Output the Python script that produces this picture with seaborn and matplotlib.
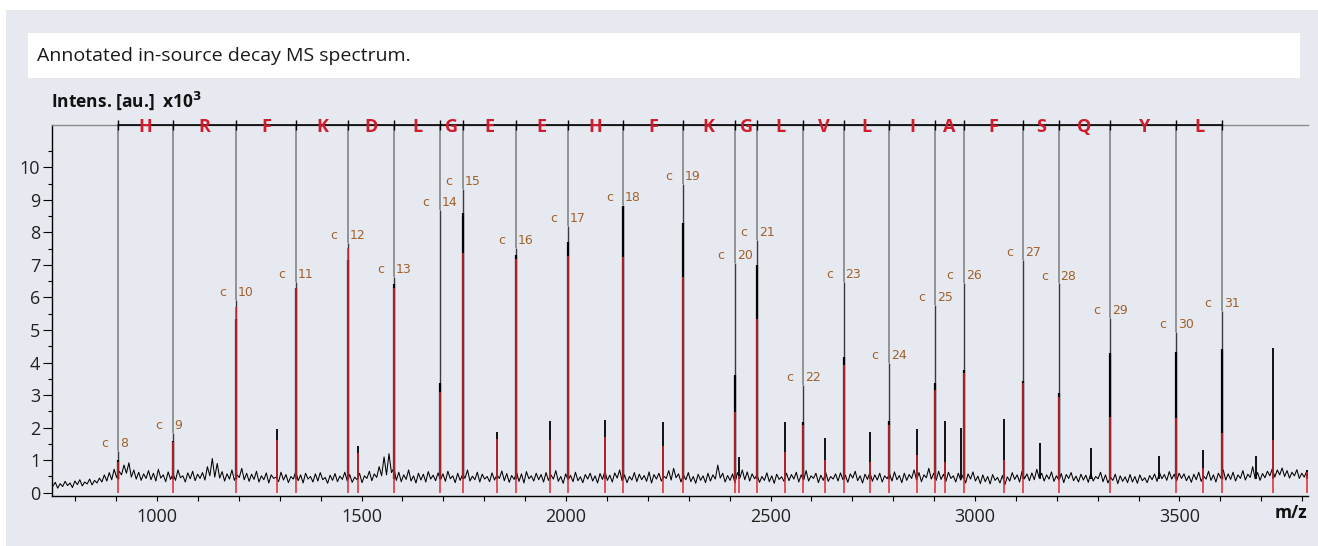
import numpy as np
import pandas as pd
import matplotlib.pyplot as plt
import seaborn as sns
from matplotlib.patches import Rectangle

sns.set_theme(style="white")
plt.rcParams['font.family'] = ['Open Sans', 'DejaVu Sans']

# baseline noise of the spectrum, one value every 6 m/z from 745
noise_start = 745
noise_step = 6
noise = [
    0.20, 0.32, 0.14, 0.28, 0.19, 0.35, 0.22, 0.30, 0.16, 0.36, 0.25, 0.40, 0.21, 0.33, 0.27, 0.42, 0.24, 0.38, 0.30, 0.45,
    0.33, 0.55, 0.36, 0.62, 0.40, 0.72, 0.47, 0.66, 0.55, 0.85, 0.60, 0.92, 0.48, 0.70, 0.42, 0.63, 0.38, 0.58, 0.44, 0.68,
    0.40, 0.60, 0.36, 0.72, 0.45, 0.55, 0.34, 0.64, 0.41, 0.58, 0.38, 0.70, 0.46, 0.52, 0.33, 0.61, 0.43, 0.66, 0.37, 0.57,
    0.44, 0.62, 0.39, 0.80, 0.52, 1.05, 0.48, 0.90, 0.45, 0.65, 0.36, 0.58, 0.42, 0.70, 0.38, 0.55, 0.47, 0.75, 0.40, 0.60,
    0.35, 0.57, 0.41, 0.66, 0.33, 0.52, 0.40, 0.61, 0.30, 0.55, 0.44, 0.48, 0.34, 0.63, 0.39, 0.56, 0.31, 0.50, 0.42, 0.64,
    0.37, 0.55, 0.30, 0.60, 0.42, 0.50, 0.33, 0.58, 0.36, 0.62, 0.40, 0.47, 0.29, 0.54, 0.38, 0.59, 0.34, 0.51, 0.41, 0.63,
    0.36, 0.56, 0.32, 0.48, 0.40, 0.60, 0.31, 0.52, 0.44, 0.66, 0.37, 0.58, 0.47, 0.80, 0.52, 1.10, 0.55, 1.20, 0.62, 0.75,
    0.38, 0.63, 0.34, 0.55, 0.41, 0.70, 0.36, 0.52, 0.30, 0.60, 0.39, 0.57, 0.33, 0.65, 0.42, 0.54, 0.37, 0.61, 0.40, 0.58,
    0.35, 0.66, 0.43, 0.52, 0.31, 0.60, 0.38, 0.56, 0.45, 0.70, 0.36, 0.51, 0.40, 0.63, 0.33, 0.57, 0.42, 0.50, 0.34, 0.61,
    0.39, 0.55, 0.44, 0.67, 0.37, 0.59, 0.32, 0.53, 0.41, 0.62, 0.35, 0.58, 0.30, 0.65, 0.43, 0.52, 0.36, 0.60, 0.40, 0.56,
    0.33, 0.62, 0.38, 0.55, 0.42, 0.68, 0.35, 0.50, 0.29, 0.58, 0.40, 0.53, 0.34, 0.63, 0.37, 0.49, 0.31, 0.56, 0.42, 0.60,
    0.36, 0.52, 0.30, 0.59, 0.41, 0.66, 0.38, 0.54, 0.33, 0.61, 0.45, 0.70, 0.37, 0.55, 0.31, 0.50, 0.39, 0.62, 0.34, 0.57,
    0.40, 0.53, 0.35, 0.64, 0.30, 0.56, 0.42, 0.60, 0.36, 0.51, 0.44, 0.68, 0.39, 0.75, 0.46, 0.58, 0.33, 0.55, 0.40, 0.62,
    0.34, 0.50, 0.29, 0.57, 0.38, 0.52, 0.31, 0.60, 0.36, 0.55, 0.42, 0.85, 0.45, 0.60, 0.33, 0.53, 0.38, 0.58, 0.30, 0.62,
    0.45, 0.70, 0.40, 0.64, 0.36, 0.58, 0.43, 0.55, 0.32, 0.50, 0.38, 0.61, 0.34, 0.52, 0.29, 0.57, 0.41, 0.49, 0.35, 0.60,
    0.37, 0.56, 0.42, 0.63, 0.33, 0.55, 0.39, 0.68, 0.36, 0.52, 0.44, 0.60, 0.31, 0.54, 0.38, 0.62, 0.35, 0.50, 0.42, 0.58,
    0.36, 0.61, 0.40, 0.54, 0.32, 0.58, 0.45, 0.66, 0.37, 0.52, 0.30, 0.57, 0.41, 0.63, 0.35, 0.55, 0.39, 0.60, 0.33, 0.52,
    0.43, 0.58, 0.36, 0.64, 0.40, 0.53, 0.31, 0.60, 0.38, 0.56, 0.44, 0.70, 0.39, 0.62, 0.34, 0.55, 0.46, 0.75, 0.42, 0.60,
    0.38, 0.66, 0.41, 0.57, 0.35, 0.63, 0.44, 0.52, 0.33, 0.60, 0.39, 0.55, 0.30, 0.58, 0.42, 0.64, 0.36, 0.51, 0.28, 0.55,
    0.34, 0.50, 0.27, 0.56, 0.38, 0.47, 0.30, 0.53, 0.25, 0.49, 0.36, 0.62, 0.41, 0.55, 0.33, 0.66, 0.43, 0.58, 0.37, 0.61,
    0.40, 0.72, 0.45, 0.60, 0.36, 0.55, 0.42, 0.64, 0.35, 0.52, 0.39, 0.59, 0.31, 0.56, 0.44, 0.62, 0.37, 0.51, 0.33, 0.57,
    0.39, 0.54, 0.32, 0.60, 0.36, 0.50, 0.43, 0.63, 0.34, 0.55, 0.30, 0.48, 0.38, 0.57, 0.28, 0.52, 0.35, 0.49, 0.31, 0.56,
    0.33, 0.50, 0.29, 0.55, 0.37, 0.46, 0.31, 0.53, 0.40, 0.58, 0.35, 0.62, 0.43, 0.56, 0.38, 0.65, 0.42, 0.57, 0.36, 0.60,
    0.44, 0.58, 0.37, 0.52, 0.32, 0.57, 0.40, 0.63, 0.35, 0.51, 0.42, 0.66, 0.38, 0.55, 0.33, 0.60, 0.45, 0.70, 0.39, 0.58,
    0.41, 0.63, 0.36, 0.55, 0.44, 0.68, 0.39, 0.57, 0.47, 0.80, 0.43, 0.62, 0.38, 0.59, 0.46, 0.66, 0.52, 0.74, 0.48, 0.70,
    0.55, 0.76, 0.50, 0.68, 0.45, 0.63, 0.52, 0.71, 0.44, 0.60, 0.48, 0.66, 0.42, 0.58, 0.50, 0.64, 0.46, 0.60, 0.48, 0.62,
]

# annotated c-ion series (intensity in x10^3)
ion_labels = ["8", "9", "10", "11", "12", "13", "14", "15", "16", "17", "18", "19",
              "20", "21", "22", "23", "24", "25", "26", "27", "28", "29", "30", "31"]
ion_mz = [905, 1039, 1194, 1340, 1466, 1580, 1692, 1748, 1877, 2004, 2140, 2285,
          2413, 2468, 2580, 2679, 2790, 2903, 2973, 3118, 3205, 3331, 3492, 3604]
ion_top = [1.28, 1.83, 5.92, 6.48, 7.66, 6.62, 8.69, 9.32, 7.51, 8.20, 8.84, 9.49,
           7.07, 7.77, 3.31, 6.48, 3.98, 5.77, 6.45, 7.15, 6.43, 5.36, 4.95, 5.58]
ion_body = [1.00, 1.60, 5.35, 6.30, 7.15, 6.40, 3.36, 8.59, 7.30, 7.71, 8.80, 8.30,
            3.62, 7.00, 2.18, 4.18, 2.20, 3.36, 3.77, 3.44, 3.05, 4.28, 4.33, 4.42]
ion_red = [0.95, 1.57, 5.70, 6.28, 7.51, 6.28, 3.10, 7.36, 7.17, 7.27, 7.25, 6.64,
           2.49, 5.34, 2.08, 3.92, 2.08, 3.16, 3.67, 3.36, 2.95, 2.34, 2.29, 1.83]

# sequence read between consecutive c ions
residues = ["H", "R", "F", "K", "D", "L", "G", "E", "E", "H", "F", "K",
            "G", "L", "V", "L", "I", "A", "F", "S", "Q", "Y", "L"]

# other (unannotated) peaks
other_mz = [1294, 1491, 1831, 1960, 2094, 2238, 2422, 2535, 2634, 2744, 2857,
            2927, 2966, 3072, 3160, 3283, 3449, 3558, 3686, 3729, 3811]
other_top = [1.95, 1.45, 1.86, 2.20, 2.22, 2.17, 1.10, 2.18, 1.67, 1.87, 1.95,
             2.20, 2.00, 2.26, 1.52, 1.36, 1.14, 1.31, 1.13, 4.44, 0.70]
other_red = [1.62, 1.21, 1.64, 1.62, 1.72, 1.45, 0.50, 1.26, 1.00, 0.95, 1.16,
             0.95, 0.00, 1.00, 0.00, 0.00, 0.00, 0.75, 0.00, 1.62, 0.63]

W, H = 1318, 546
bg = "#e6e9f0"
red = "#e3262f"
letter_red = "#d01c2c"
brown = "#a0612b"
gray = "#8c8c8c"

fig = plt.figure(figsize=(W / 100, H / 100), dpi=100, facecolor="white")
fig.patches.append(Rectangle((6 / W, 0), 1 - 6 / W, 1 - 10 / H, transform=fig.transFigure,
                             facecolor=bg, edgecolor="none", zorder=-2))
fig.patches.append(Rectangle((28 / W, 1 - 78 / H), (1300 - 28) / W, 45 / H, transform=fig.transFigure,
                             facecolor="white", edgecolor="none", zorder=-1))
fig.text(37 / W, 1 - 56 / H, "Annotated in-source decay MS spectrum.", fontsize=14,
         color="#1a1a1a", va="center", ha="left")

ax = fig.add_axes([52 / W, 1 - 496 / H, (1307.5 - 52) / W, (496 - 125) / H])
ax.set_zorder(1)
ax.set_facecolor(bg)
ymin, ymax = -0.1, 11.3

noise_mz = noise_start + noise_step * np.arange(len(noise))
df = pd.DataFrame({"mz": noise_mz, "intensity": noise})
sns.lineplot(data=df, x="mz", y="intensity", color="black", lw=0.75, ax=ax, zorder=3)

base = 0.42
# annotation lines from the top down to each c-ion peak
ax.vlines(ion_mz, ion_top, ymax, color=gray, lw=1.3, zorder=2)
ax.vlines(ion_mz, base, ion_top, color="#3a3a3a", lw=1.0, zorder=4)
ax.vlines(ion_mz, base, ion_body, color="black", lw=1.6, zorder=4)
ax.vlines(ion_mz, 0, ion_red, color=red, lw=1.1, zorder=5)

ax.vlines(other_mz, base, other_top, color="black", lw=1.3, zorder=4)
red_mz = [m for m, r in zip(other_mz, other_red) if r > 0]
red_h = [r for r in other_red if r > 0]
ax.vlines(red_mz, 0, red_h, color=red, lw=1.1, zorder=5)

for m, t, lab in zip(ion_mz, ion_top, ion_labels):
    ax.annotate("c", (m, t + 0.23), xytext=(-7.5, 0), textcoords="offset points",
                ha="right", va="center", fontsize=9, family="DejaVu Sans", color=brown, zorder=6)
    ax.annotate(lab, (m, t + 0.23), xytext=(1.2, 0), textcoords="offset points",
                ha="left", va="center", fontsize=9, family="DejaVu Sans", color=brown, zorder=6)

# sequence ladder along the top
ax.plot([ion_mz[0], ion_mz[-1]], [ymax, ymax], color="black", lw=1.2, clip_on=False, zorder=6)
ax.plot(ion_mz, [ymax] * len(ion_mz), ls="none", marker="|", ms=7, mew=1.0,
        color="black", clip_on=False, zorder=6)
for i, res in enumerate(residues):
    xm = (ion_mz[i] + ion_mz[i + 1]) / 2
    ax.annotate(res, (xm, ymax), xytext=(0, -1.5), textcoords="offset points",
                ha="center", va="center", fontsize=13, fontweight="bold",
                color=letter_red, zorder=8, annotation_clip=False)

ax.set_xlim(743, 3813)
ax.set_ylim(ymin, ymax)
ax.set_xticks([1000, 1500, 2000, 2500, 3000, 3500])
ax.set_xticks([m for m in range(800, 3900, 100) if m % 500], minor=True)
ax.set_yticks(list(range(11)))
ax.set_yticks([i + 0.5 for i in range(11)], minor=True)
ax.tick_params(axis="x", which="both", direction="out", length=3.5, width=0.8,
               color="black", labelsize=13, labelcolor="#222222", pad=5, bottom=True)
ax.tick_params(axis="y", which="major", direction="out", length=6.5, width=0.8,
               color="black", labelsize=13, labelcolor="#222222", pad=2, left=True)
ax.tick_params(axis="y", which="minor", direction="out", length=3, width=0.8,
               color="black", left=True)
ax.set_xlabel("")
ax.set_ylabel("")

for side in ["left", "bottom"]:
    ax.spines[side].set_color("black")
    ax.spines[side].set_linewidth(1.0)
ax.spines["top"].set_color(gray)
ax.spines["top"].set_linewidth(1.0)
ax.spines["right"].set_visible(False)

fig.text(51 / W, 1 - 101 / H, "Intens. [au.]  x10$^\\mathbf{3}$", fontsize=12.5, fontweight="bold",
         color="#111111", ha="left", va="center")
fig.text(1307 / W, 1 - 513 / H, "m/z", fontsize=12.5, fontweight="bold",
         color="#111111", ha="right", va="center")

fig.savefig("out.png", dpi=100, facecolor=fig.get_facecolor())
